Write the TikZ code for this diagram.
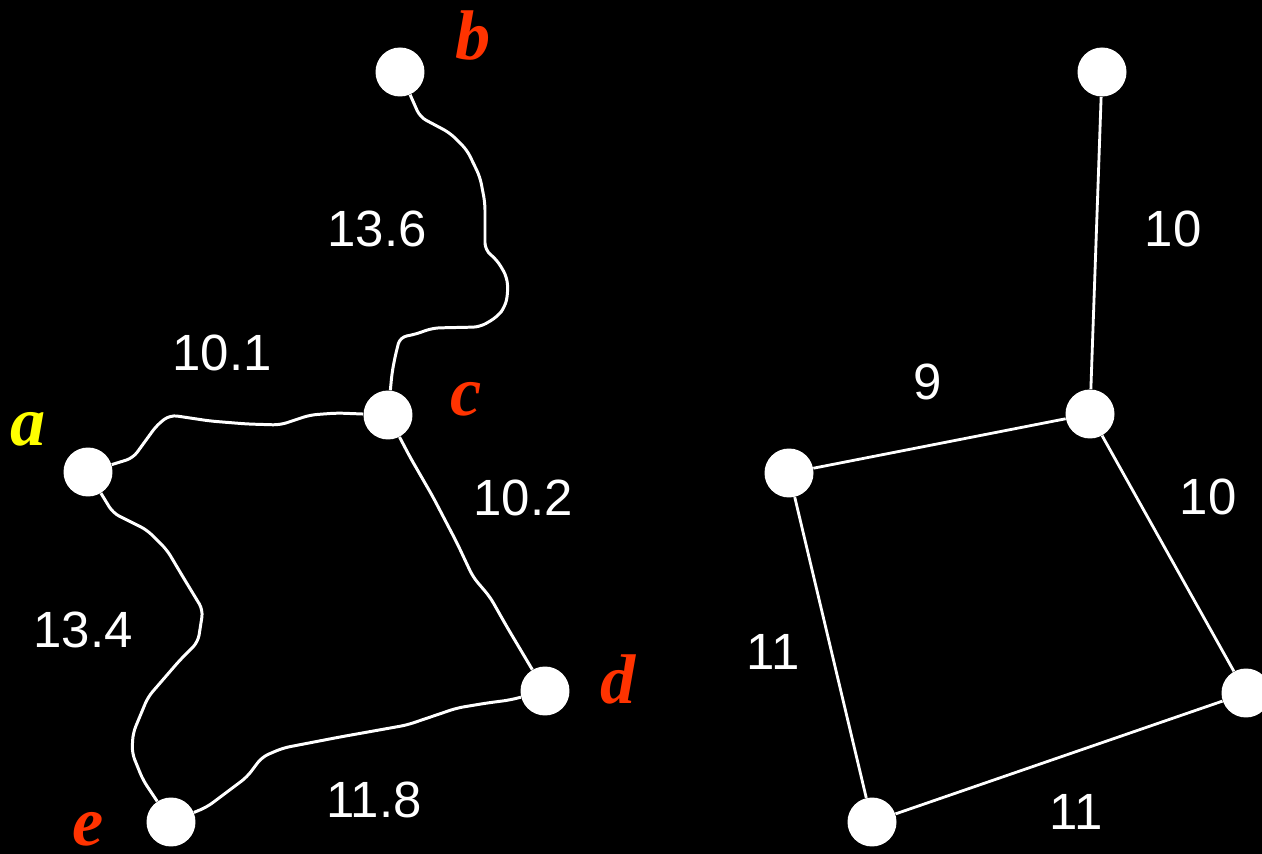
\documentclass[tikz,border=0pt]{standalone}
\usepackage{fontspec}
\setmainfont{Liberation Sans}
\newfontfamily\namefont{Liberation Serif}
\definecolor{gvred}{HTML}{FF3300}
\definecolor{gvyellow}{HTML}{FFFF00}

\begin{document}
\begin{tikzpicture}[
  x=0.02cm, y=-0.02cm,
  vertnode/.style={circle, fill=white, minimum size=0.98cm, inner sep=0pt},
  wire/.style={white, line width=1.7pt, rounded corners=4pt},
  rod/.style={white, line width=1.6pt},
  wlabel/.style={text=white, font=\fontsize{29}{30}\selectfont, inner sep=0pt},
  vlabel/.style={font=\namefont\bfseries\itshape\fontsize{40}{40}\selectfont, inner sep=0pt},
]
\fill[black] (0,0) rectangle (1262,854);
\useasboundingbox (0,0) rectangle (1262,854);
\clip (0,0) rectangle (1262,854);

\node[vertnode] (b) at (400,72) {};
\node[vertnode] (c) at (388,415) {};
\node[vertnode] (a) at (88,472) {};
\node[vertnode] (d) at (545,691) {};
\node[vertnode] (e) at (171,822) {};

\draw[wire] (b) -- (420,117) -- (450,133) -- (467,150) -- (480,177) -- (485,203) -- (485,250)
  -- (497,260) -- (507,277) -- (508,293) -- (505,307) -- (497,317) -- (480,327) -- (433,328)
  -- (413,335) -- (400,337) -- (395,357) -- (392,373) -- (c);
\draw[wire] (a) -- (133,458) -- (157,425) -- (170,415) -- (210,421) -- (247,424) -- (280,425)
  -- (310,415) -- (337,413) -- (c);
\draw[wire] (c) -- (410,457) -- (433,497) -- (457,543) -- (473,577) -- (490,597) -- (507,627) -- (d);
\draw[wire] (a) -- (113,513) -- (127,520) -- (147,530) -- (167,550) -- (183,577) -- (203,610)
  -- (198,642) -- (180,660) -- (148,697) -- (133,733) -- (132,753) -- (143,780) -- (e);
\draw[wire] (e) -- (207,807) -- (247,777) -- (262,757) -- (283,748) -- (340,737) -- (407,725)
  -- (457,708) -- (487,703) -- (510,700) -- (d);

\node[wlabel] (w_bc) at (377,229) {13.6};
\node[wlabel] (w_ac) at (222,353) {10.1};
\node[wlabel] (w_cd) at (523,498) {10.2};
\node[wlabel] (w_ae) at (83,630) {13.4};
\node[wlabel] (w_ed) at (374,800) {11.8};

\node[vlabel, text=gvred] (lb) at (473,36) {b};
\node[vlabel, text=gvred] (lc) at (466,399) {c};
\node[vlabel, text=gvyellow] (la) at (28,429) {a};
\node[vlabel, text=gvred] (ld) at (618,679) {d};
\node[vlabel, text=gvred] (le) at (88,829) {e};

\node[vertnode] (b2) at (1102,72) {};
\node[vertnode] (c2) at (1090,414) {};
\node[vertnode] (a2) at (789,473) {};
\node[vertnode] (d2) at (1246,693) {};
\node[vertnode] (e2) at (872,822) {};

\draw[rod] (b2) -- (c2);
\draw[rod] (a2) -- (c2);
\draw[rod] (c2) -- (d2);
\draw[rod] (a2) -- (e2);
\draw[rod] (e2) -- (d2);

\node[wlabel] (w_bc2) at (1173,229) {10};
\node[wlabel] (w_ac2) at (928,382) {9};
\node[wlabel] (w_cd2) at (1208,497) {10};
\node[wlabel] (w_ae2) at (773,652) {11};
\node[wlabel] (w_ed2) at (1076,812) {11};
\end{tikzpicture}
\end{document}
